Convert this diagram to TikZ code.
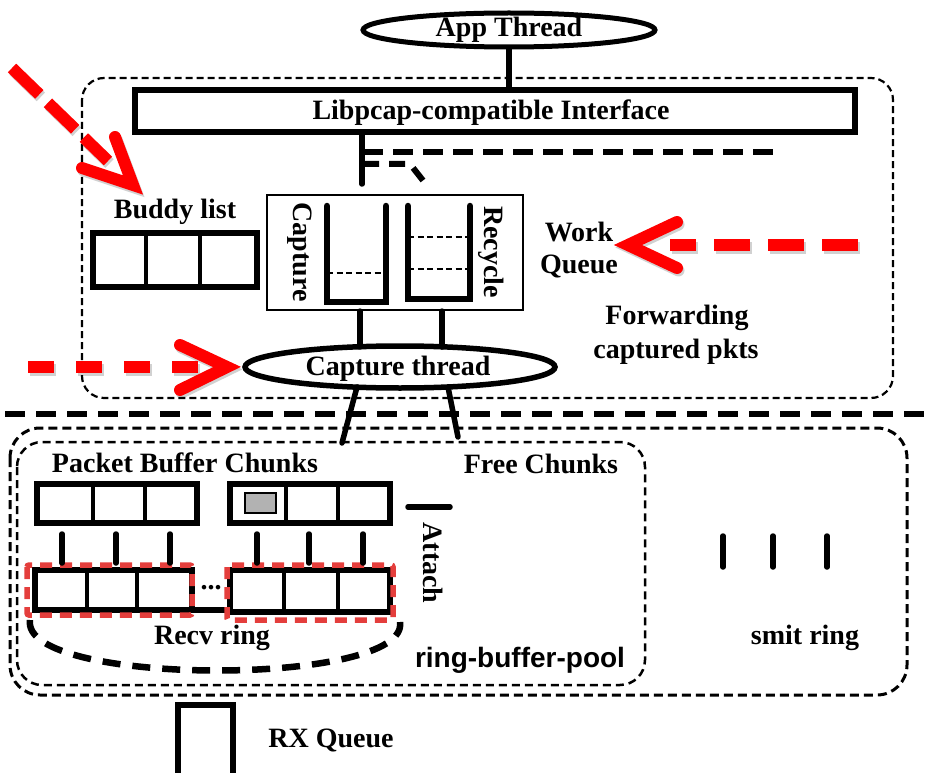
\documentclass[tikz,border=0pt]{standalone}
\usepackage{fontspec}
\setmainfont{Liberation Serif}
\newfontfamily\sansbold{Liberation Sans}
\usetikzlibrary{shapes.geometric,calc}
\definecolor{ringred}{RGB}{228,62,60}
\tikzset{
  lbl/.style={font=\fontsize{28}{30}\selectfont\bfseries, inner sep=0pt},
  thk/.style={line width=5.5pt},
  thread/.style={draw, ellipse, line width=5.5pt, inner sep=0pt},
  region/.style={draw, line width=2.2pt, dash pattern=on 7pt off 4pt},
  bigdash/.style={line width=6pt, dash pattern=on 20pt off 10pt},
  hint/.style={draw=red, line width=12pt},
  hinthead/.style={draw=red, line width=12pt, line cap=round, line join=miter},
  hintshade/.style={draw=black, opacity=0.18, line width=12pt, transform canvas={shift={(1.5,2.5)}}},
  ringmark/.style={draw=ringred, line width=5.5pt, dash pattern=on 12pt off 8pt, rounded corners=2pt},
  qline/.style={line width=6.5pt, line cap=round},
  qdash/.style={line width=2.5pt, dash pattern=on 6pt off 3.5pt},
  link/.style={line width=5.5pt, line cap=round},
}
\newcommand{\threecells}[6]{% x1,y1,x2,y2,divider1,divider2
  \draw[line width=6pt] (#1,#2) rectangle (#3,#4);
  \draw[line width=4.5pt] (#5,#2) -- (#5,#4) (#6,#2) -- (#6,#4);
}
\begin{document}
\begin{tikzpicture}[x=1pt,y=-1pt]
\useasboundingbox (0,0) rectangle (932,773);

% ---------- user-space part ----------
\node[thread, line width=5pt, minimum width=292pt, minimum height=34pt] (app) at (509,30) {};
\node[lbl] at (509,30) {App Thread};

\draw[region, rounded corners=22pt] (82,78) rectangle (893,398);

\node[draw, line width=5.5pt, minimum width=720pt, minimum height=42pt, inner sep=0pt] (iface) at (495,111) {};
\node[lbl] at (491,113) {Libpcap-compatible Interface};
\draw[thk] (app.south) -- (app.south |- iface.north);

% work queue
\node[draw, line width=2.2pt, minimum width=256pt, minimum height=115pt, inner sep=0pt] (wq) at (395,252.5) {};
\node[lbl, rotate=-90] at (300,252) {Capture};
\node[lbl, rotate=-90] at (491,252) {Recycle};
\draw[qline] (327,206) -- (327,302) -- (386,302) -- (386,206);
\draw[qdash] (327,273) -- (386,273);
\draw[qline] (408,206) -- (408,299) -- (470,299) -- (470,206);
\draw[qdash] (408,237) -- (470,237) (408,269) -- (470,269);
\node[lbl] at (579,232) {Work};
\node[lbl] at (579,266) {Queue};

% interface to queues
\coordinate (capin) at (362,184);
\coordinate (recout) at (425,183);
\draw[link] (362,0 |- iface.south) -- (capin);
\draw[bigdash] (363,152) -- (777,152);
\draw[line width=6pt, dash pattern=on 16pt off 10pt] (363,164) -- (410,164) -- (recout);

% buddy list
\node[lbl] at (175,212) {Buddy list};
\draw[line width=6.5pt] (93,233) rectangle (257,287);
\draw[line width=4pt] (146,233) -- (146,287) (200,233) -- (200,287);

% capture thread
\node[thread, minimum width=310pt, minimum height=42pt] (capt) at (400,367) {};
\node[lbl] at (398,369) {Capture thread};
\draw[link] (360,0 |- wq.south) -- (360,347);
\draw[link] (442,0 |- wq.south) -- (442,347);

\node[lbl] at (677,318) {Forwarding};
\node[lbl] at (676,352) {captured pkts};

% red hint arrows, with a faint shade underneath
\draw[hintshade, dash pattern=on 38pt off 12pt] (12,68) -- (108,161);
\draw[hintshade, line cap=round] (115,137) -- (133,185) -- (82,168);
\draw[hintshade, dash pattern=on 36pt off 18pt] (858,245) -- (670,245);
\draw[hintshade, line cap=round] (677,222) -- (628,245) -- (677,268);
\draw[hintshade, dash pattern=on 26pt off 22pt] (28,367) -- (198,367);
\draw[hintshade, line cap=round] (180,345) -- (227,367) -- (180,390);

\draw[hint, dash pattern=on 38pt off 12pt] (12,68) -- (108,161);
\draw[hinthead] (115,137) -- (133,185) -- (82,168);
\draw[hint, dash pattern=on 36pt off 18pt] (858,245) -- (670,245);
\draw[hinthead] (677,222) -- (628,245) -- (677,268);
\draw[hint, dash pattern=on 26pt off 22pt] (28,367) -- (198,367);
\draw[hinthead] (180,345) -- (227,367) -- (180,390);

% kernel / user separator
\draw[line width=5.5pt, dash pattern=on 20pt off 11pt] (5,414) -- (932,414);

% ---------- driver part ----------
\draw[line width=3pt, dash pattern=on 9pt off 5pt, rounded corners=30pt] (10,428) rectangle (907,695);
\draw[line width=2.5pt, dash pattern=on 8pt off 5pt, rounded corners=25pt] (17,442) rectangle (645,685);

\coordinate (poolA) at (342,443);
\coordinate (poolB) at (458,437);
\draw[link] (357,387) -- (poolA);
\draw[link] (448,387) -- (poolB);

\node[lbl] at (185,463) {Packet Buffer Chunks};
\node[lbl] at (541,464) {Free Chunks};

% chunk rows
\threecells{37}{484}{197}{523}{93}{145}
\threecells{230}{484}{390}{523}{286}{338}
\draw[line width=2.2pt, fill=black!30] (245,493) rectangle (276,513);

% recv ring
\threecells{35}{570}{192}{610}{87}{137}
\threecells{230}{570}{390}{612}{284}{338}
\draw[line width=6pt] (192,610) -- (230,610);
\node[lbl] at (211,588) {...};
\draw[ringmark] (27,565) rectangle (192,615);
\draw[ringmark] (227,565) rectangle (393,620);

\foreach \x in {62,116,170,257,309,363}
  \draw[link] (\x,534) -- (\x,563);

\draw[line width=6.5pt, dash pattern=on 18pt off 12pt] (30,620) .. controls (20,687) and (410,687) .. (400,622);
\node[lbl] at (212,638) {Recv ring};
\node[font=\fontsize{28}{30}\selectfont\sansbold\bfseries, inner sep=0pt] at (520,660) {ring-buffer-pool};

\draw[line width=5.5pt, line cap=round] (408,507) -- (450,507);
\node[lbl, rotate=-90] at (433,563) {Attach};

% transmit ring
\foreach \x in {723,773,827}
  \draw[link] (\x,536) -- (\x,567);
\node[lbl] at (805,638) {smit ring};

% rx queue
\draw[line width=6.5pt] (178,773) -- (178,705) -- (233,705) -- (233,773);
\node[lbl] at (331,740) {RX Queue};
\end{tikzpicture}
\end{document}
